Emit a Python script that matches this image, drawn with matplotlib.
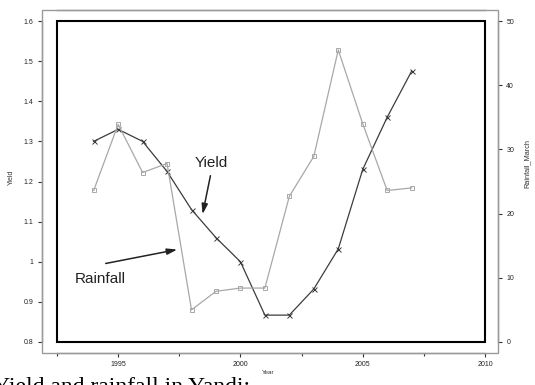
import matplotlib
matplotlib.use("Agg")
import matplotlib.pyplot as plt
from matplotlib.patches import Rectangle

years = [1994, 1995, 1996, 1997, 1998, 1999, 2000, 2001, 2002, 2003, 2004, 2005, 2006, 2007]
yield_vals = [1.30, 1.33, 1.30, 1.225, 1.13, 1.06, 1.00, 0.867, 0.867, 0.932, 1.032, 1.23, 1.36, 1.475]
rain_vals = [23.6, 33.9, 26.4, 27.8, 5.0, 7.9, 8.4, 8.4, 22.7, 28.9, 45.5, 34.0, 23.6, 24.0]

x_major = [1995, 2000, 2005, 2010]
x_minor = [1992.5, 1997.5, 2002.5, 2007.5]
y_ticks = [0.8, 0.9, 1.0, 1.1, 1.2, 1.3, 1.4, 1.5, 1.6]
y_labels = ["0.8", "0.9", "1", "1.1", "1.2", "1.3", "1.4", "1.5", "1.6"]
r_ticks = [0, 10, 20, 30, 40, 50]

W, H = 535, 385
DPI = 100
fig = plt.figure(figsize=(W / DPI, H / DPI), dpi=DPI)
plt.rcParams['font.family'] = ['Liberation Sans', 'DejaVu Sans']

L, R, T, B = 57, 485, 21, 342
ax = fig.add_axes([L / W, 1 - B / H, (R - L) / W, (B - T) / H])
ax2 = ax.twinx()

ax.plot(years, yield_vals, color='#3c3c3c', lw=0.9, marker='x', ms=3.6, mew=0.7, zorder=3)
ax2.plot(years, rain_vals, color='#a8a8a8', lw=0.9, marker='s', ms=3, mfc='none', mew=0.7, zorder=2)

ax.set_xlim(1992.5, 2010)
ax.set_ylim(0.8, 1.6)
ax2.set_ylim(0, 50)

ax.set_xticks(x_major)
ax.set_xticks(x_minor, minor=True)
ax.set_yticks(y_ticks)
ax.set_yticklabels(y_labels)
ax2.set_yticks(r_ticks)

px = 0.72
gray = '#9a9a9a'
for a in (ax, ax2):
    for s in a.spines.values():
        s.set_color(gray)
        s.set_linewidth(1.0)
ax.spines['left'].set_position(('outward', 15 * px))
ax.spines['bottom'].set_position(('outward', 11 * px))
ax.spines['top'].set_position(('outward', 11 * px))
ax.spines['right'].set_visible(False)
ax2.spines['right'].set_position(('outward', 13 * px))
ax2.spines['left'].set_visible(False)
ax2.spines['top'].set_visible(False)
ax2.spines['bottom'].set_visible(False)

for a in (ax, ax2):
    a.tick_params(axis='both', which='both', direction='out', length=3, width=0.8,
                  color='#333333', labelsize=5, labelcolor='#222222', pad=3)
ax.tick_params(axis='x', which='minor', length=2.5)
ax.tick_params(axis='y', which='both', right=False)

# inner black frame
ax.add_patch(Rectangle((0, 0), 1, 1, transform=ax.transAxes, fill=False,
                       ec='black', lw=1.5, zorder=5, clip_on=False))
# outer gray frame
fig.patches.append(Rectangle((42 / W, 1 - 353 / H), (498 - 42) / W, (353 - 10) / H,
                             transform=fig.transFigure, fill=False, ec=gray, lw=1.0))

def fp(x, y):
    return (x / W, 1 - y / H)

fig.text(*fp(11, 177), "Yield", rotation=90, ha='center', va='center', fontsize=5, color='#333333')
fig.text(*fp(527, 163), "Rainfall_March", rotation=90, ha='center', va='center', fontsize=5.3, color='#333333')
fig.text(*fp(268, 372), "Year", ha='center', va='center', fontsize=4.5, color='#333333')

ax.annotate("", xy=fp(202, 217), xytext=fp(211, 173), xycoords='figure fraction',
            textcoords='figure fraction',
            arrowprops=dict(arrowstyle='-|>,head_length=0.6,head_width=0.18', color='#222222', lw=1.1))
ax.annotate("", xy=fp(180, 249), xytext=fp(103, 264), xycoords='figure fraction',
            textcoords='figure fraction',
            arrowprops=dict(arrowstyle='-|>,head_length=0.6,head_width=0.18', color='#222222', lw=1.1))
fig.text(*fp(195, 167), "Yield", ha='left', va='baseline', fontsize=11, color='#222222')
fig.text(*fp(75, 283), "Rainfall", ha='left', va='baseline', fontsize=11, color='#222222')

fig.text(*fp(-7, 393), "Yield and rainfall in Yandi:", ha='left', va='baseline',
         fontsize=17, family=['Liberation Serif', 'DejaVu Serif'], color='black')

fig.savefig("out.png", dpi=DPI)
